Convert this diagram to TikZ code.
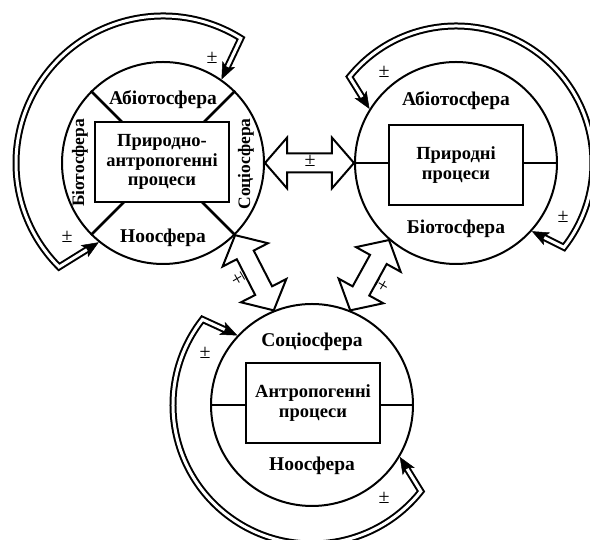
\documentclass[tikz,border=0pt]{standalone}
\usepackage{fontspec}
\setmainfont{Liberation Serif}
\usetikzlibrary{shapes.arrows,arrows.meta,calc}
\newcommand\blockarrow[3]{%
  \path let \p1=($(#3)-(#2)$), \n1={atan2(\y1,\x1)}, \n2={veclen(\x1,\y1)} in
    node[bigarrow, minimum height=\n2, rotate=\n1] (#1) at ($(#2)!0.5!(#3)$) {};
}
\newcommand\feedback[6]{%
  \draw[fbout] ($(#1)+(#2:102)$) -- ($(#1)+(#3:#6)$) arc[start angle=#3,end angle=#4,radius=#6] -- ($(#1)+(#5:102)$);
  \draw[fbin] ($(#1)+(#2:102)$) -- ($(#1)+(#3:#6)$) arc[start angle=#3,end angle=#4,radius=#6] -- ($(#1)+(#5:102)$);
}
\begin{document}
\begin{tikzpicture}[x=1pt,y=1pt,
  sph/.style={circle,draw,line width=2,minimum size=202,inner sep=0},
  proc/.style={rectangle,draw,line width=2.5,fill=white,minimum width=134,minimum height=80,inner sep=0,align=center,font=\fontsize{18.5}{19.5}\selectfont\bfseries},
  lbl/.style={font=\fontsize{19.5}{21}\selectfont\bfseries,inner sep=0},
  vlbl/.style={font=\fontsize{17.5}{19}\selectfont\bfseries,inner sep=0,rotate=90},
  pm/.style={font=\fontsize{20}{21}\selectfont,inner sep=0},
  divline/.style={line width=2.8},
  bigarrow/.style={double arrow,draw,fill=white,line width=2,inner xsep=0,inner ysep=8.5,double arrow head extend=16,double arrow tip angle=98},
  fbout/.style={line width=7,arrows={Stealth[length=17pt,width=14pt,inset=4pt,line width=0.5pt]-Stealth[length=17pt,width=14pt,inset=4pt,line width=0.5pt]}},
  fbin/.style={line width=3,white,shorten <=14pt,shorten >=14pt},
]
\useasboundingbox (0,0) rectangle (590,540);
\fill[white] (0,0) rectangle (590,540);
% spheres
\node[sph] (L) at (163,377) {};
\node[sph] (R) at (456,377) {};
\node[sph] (B) at (312,135) {};
\foreach \a in {45,135,225,315} \draw[divline] (L.center) -- (L.\a);
\draw[divline] (R.west) -- (R.east);
\draw[divline] (B.west) -- (B.east);
\node[proc] (Lr) at (162,378) {Природно-\\антропогенні\\процеси};
\node[proc] (Rr) at (456,375) {Природні\\процеси};
\node[proc] (Br) at (313,137) {Антропогенні\\процеси};
% sphere labels
\node[lbl] (la1) at (163,440) {Абіотосфера};
\node[lbl] (la2) at (163,302) {Ноосфера};
\node[vlbl] (la3) at (80,377) {Біотосфера};
\node[vlbl] (la4) at (246,376) {Соціосфера};
\node[lbl] (ra1) at (456,439) {Абіотосфера};
\node[lbl] (ra2) at (456,311) {Біотосфера};
\node[lbl] (ba1) at (312,198) {Соціосфера};
\node[lbl] (ba2) at (312,74) {Ноосфера};
% feedback loops
\feedback{L.center}{55}{58}{225}{231}{147}
\feedback{R.center}{148}{141}{-38}{-42}{137}
\feedback{B.center}{137}{142}{321.6}{329.4}{139}
% block arrows
\blockarrow{H}{L.east}{R.west}
\blockarrow{D1}{L.-45}{B.112}
\blockarrow{D2}{R.229}{B.68}
% +- labels
\node[pm] (p1) at (212,482) {±};
\node[pm] (p2) at (67,303) {±};
\node[pm] (p3) at (384,468) {±};
\node[pm] (p4) at (563,323) {±};
\node[pm] (p5) at (205,187) {±};
\node[pm] (p6) at (384,42) {±};
\node[pm] (p7) at (310,379) {±};
\node[pm,rotate=120] (p8) at (238,261) {±};
\node[pm,rotate=-120] (p9) at (382,255) {±};
\end{tikzpicture}
\end{document}
